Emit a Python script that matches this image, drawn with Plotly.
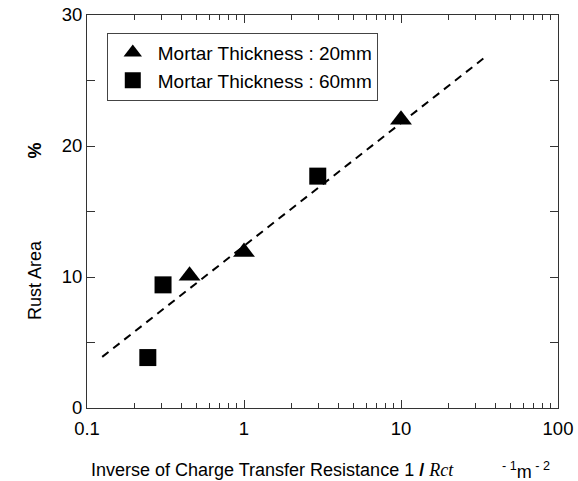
import plotly.graph_objects as go

# Data
tri_x = [0.45, 1.0, 10.0]
tri_y = [10.1, 11.9, 22.0]
sq_x = [0.244, 0.305, 2.95]
sq_y = [3.85, 9.4, 17.7]
fit_x = [0.125, 34.5]
fit_y = [3.9, 26.8]

names = ["Mortar Thickness : 20mm", "Mortar Thickness : 60mm"]

FONT = "Arial, Liberation Sans, sans-serif"

fig = go.Figure()
fig.add_trace(go.Scatter(x=fit_x, y=fit_y, mode="lines", showlegend=False,
                         line=dict(color="black", width=2, dash="8px,6px")))
fig.add_trace(go.Scatter(x=tri_x, y=tri_y, mode="markers", name=names[0],
                         marker=dict(symbol="triangle-up", size=19, color="black")))
fig.add_trace(go.Scatter(x=sq_x, y=sq_y, mode="markers", name=names[1],
                         marker=dict(symbol="square", size=17, color="black")))

fig.update_layout(
    width=578, height=481,
    margin=dict(l=87, r=20, t=15, b=73, autoexpand=False),
    paper_bgcolor="white", plot_bgcolor="white",
    font=dict(family=FONT, size=18.5, color="black"),
    showlegend=True,
    legend=dict(x=0.042, y=0.955, xanchor="left", yanchor="top",
                bordercolor="#444", borderwidth=1, bgcolor="white",
                font=dict(size=19, family=FONT), itemsizing="trace",
                itemwidth=40, tracegroupgap=0),
    xaxis=dict(type="log", range=[-1, 2], showgrid=False, zeroline=False,
               showline=True, linecolor="#333", linewidth=1, mirror="ticks",
               ticks="inside", ticklen=8, tickcolor="#333",
               ticklabelstandoff=4, automargin=False,
               tickvals=[0.1, 1, 10, 100], ticktext=["0.1", "1", "10", "100"],
               minor=dict(ticks="inside", ticklen=5, tickcolor="#333",
                          tickvals=[0.2, 0.3, 0.4, 0.5, 0.6, 0.7, 0.8, 0.9,
                                    2, 3, 4, 5, 6, 7, 8, 9,
                                    20, 30, 40, 50, 60, 70, 80, 90])),
    yaxis=dict(range=[0, 30], showgrid=False, zeroline=False,
               showline=True, linecolor="#333", linewidth=1, mirror="ticks",
               ticks="inside", ticklen=8, tickcolor="#333", dtick=10,
               automargin=False,
               minor=dict(ticks="inside", ticklen=8, tickcolor="#333", dtick=5)),
    annotations=[
        dict(text="Rust Area", textangle=-90, xref="paper", yref="paper",
             x=-0.11, y=0.326, xanchor="center", yanchor="middle",
             showarrow=False, font=dict(size=18)),
        dict(text="<b>%</b>", textangle=-90, xref="paper", yref="paper",
             x=-0.11, y=0.656, xanchor="center", yanchor="middle",
             showarrow=False, font=dict(size=18)),
        dict(text="Inverse of Charge Transfer Resistance 1 <b>/</b> "
                  "<span style='font-family:Liberation Serif, Times New Roman, serif'><i>Rct</i></span>",
             xref="paper", yref="paper", x=0.393, y=-0.158,
             xanchor="center", yanchor="middle", showarrow=False,
             font=dict(size=18)),
        dict(text="<sup>- 1</sup>m<sup> - 2</sup>", xref="paper", yref="paper",
             x=0.877, y=-0.158, xanchor="left", yanchor="middle",
             showarrow=False, font=dict(size=18)),
    ],
)

fig.write_html("out.html")
